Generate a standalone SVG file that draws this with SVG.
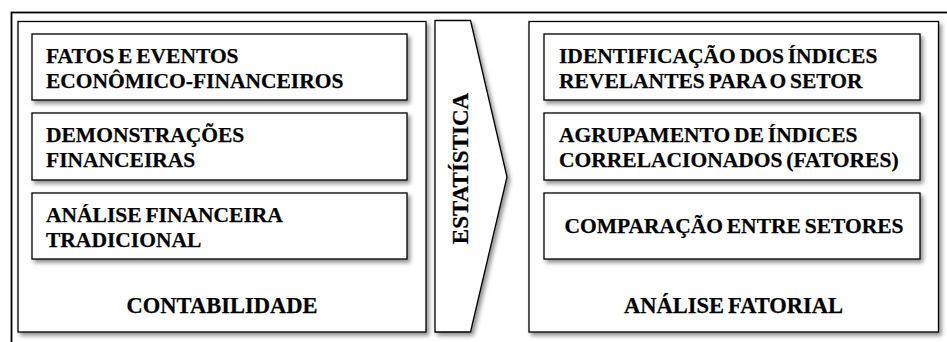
<svg xmlns="http://www.w3.org/2000/svg" width="947" height="342" viewBox="0 0 947 342">
<defs>
<filter id="sh" x="-10%" y="-10%" width="130%" height="140%">
<feDropShadow dx="2.5" dy="3" stdDeviation="2" flood-color="#000" flood-opacity="0.45"/>
</filter>
</defs>
<style>
.box{fill:#fff;stroke:#000;stroke-width:1.3;filter:url(#sh)}
.t{font-family:"Liberation Serif","Times New Roman","DejaVu Serif",serif;font-weight:bold;font-size:21.5px;fill:#000;stroke:#000;stroke-width:0.25;word-spacing:-1.5px}
.h{font-size:22.5px}
.v{font-size:23px}
.c{text-anchor:middle}
</style>
<rect x="0" y="0" width="947" height="342" fill="#fff"/>
<rect id="frame" x="11.5" y="12.5" width="960" height="360" fill="none" stroke="#000" stroke-width="1.8"/>
<g id="contabilidade">
<rect class="box" x="18" y="21.5" width="408" height="310.5"/>
<text class="t h c" x="222" y="313">CONTABILIDADE</text>
</g>
<g id="fatos">
<rect class="box" x="32" y="34" width="375" height="66"/>
<text class="t" x="46" y="63">FATOS E EVENTOS</text>
<text class="t" x="46" y="88">ECONÔMICO-FINANCEIROS</text>
</g>
<g id="demonstracoes">
<rect class="box" x="32" y="113" width="375" height="67"/>
<text class="t" x="46" y="142">DEMONSTRAÇÕES</text>
<text class="t" x="46" y="167">FINANCEIRAS</text>
</g>
<g id="analise-tradicional">
<rect class="box" x="32" y="193" width="375" height="66"/>
<text class="t" x="46" y="222">ANÁLISE FINANCEIRA</text>
<text class="t" x="46" y="247">TRADICIONAL</text>
</g>
<g id="estatistica">
<path class="box" d="M435,20.5 L470.5,20.5 L507,177 L470.5,332 L435,332 Z"/>
<text class="t v c" transform="translate(467.5,168.5) rotate(-90)" x="0" y="0">ESTATÍSTICA</text>
</g>
<g id="analise-fatorial">
<rect class="box" x="529" y="21.5" width="409.5" height="310.5"/>
<text class="t h c" x="733.5" y="313">ANÁLISE FATORIAL</text>
</g>
<g id="identificacao">
<rect class="box" x="544" y="34" width="376" height="66"/>
<text class="t" x="559" y="63">IDENTIFICAÇÃO DOS ÍNDICES</text>
<text class="t" x="559" y="88">REVELANTES PARA O SETOR</text>
</g>
<g id="agrupamento">
<rect class="box" x="544" y="113" width="376" height="67"/>
<text class="t" x="559" y="142">AGRUPAMENTO DE ÍNDICES</text>
<text class="t" x="559" y="167">CORRELACIONADOS (FATORES)</text>
</g>
<g id="comparacao">
<rect class="box" x="544" y="193" width="376" height="66"/>
<text class="t c" x="734" y="233">COMPARAÇÃO ENTRE SETORES</text>
</g>
<g id="connectors"></g>
</svg>
